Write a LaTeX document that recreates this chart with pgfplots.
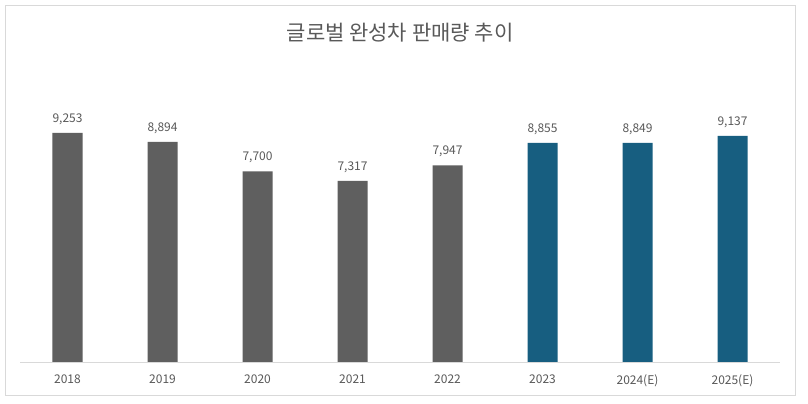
\documentclass[border=0pt]{standalone}
\usepackage{pgfplots}
\pgfplotsset{compat=1.18}
\usepackage{fontspec}
\setmainfont{Noto Sans CJK KR}
\definecolor{bargrey}{HTML}{5F5F5F}
\definecolor{barblue}{HTML}{175E80}
\definecolor{txtgrey}{HTML}{595959}
\definecolor{linegrey}{HTML}{D9D9D9}
\begin{document}
\begin{tikzpicture}
  \useasboundingbox (0,0) rectangle (808bp,404bp);
  \fill[white] (0,0) rectangle (808bp,404bp);
  \draw[linegrey] (5.5bp,8.5bp) rectangle (795.5bp,398.5bp);
  \node[text=txtgrey, font=\fontsize{21bp}{24bp}\selectfont] at (400bp,371bp) {글로벌 완성차 판매량 추이};
  \begin{axis}[
      at={(20bp,42bp)}, anchor=south west,
      scale only axis,
      width=760bp, height=247.5bp,
      xmin=-0.5, xmax=7.5,
      ymin=0, ymax=10000,
      ybar, bar width=30bp, bar shift=0pt,
      axis x line*=bottom,
      hide y axis,
      axis line style={linegrey},
      xtick={0,...,7},
      xticklabels={2018,2019,2020,2021,2022,2023,2024(E),2025(E)},
      major tick length=0pt,
      xticklabel style={text=txtgrey, font=\fontsize{12bp}{14bp}\selectfont, yshift=-9bp},
      /pgf/number format/assume math mode=true,
      nodes near coords,
      nodes near coords style={text=txtgrey, font=\fontsize{12bp}{14bp}\selectfont, yshift=5bp,
        /pgf/number format/.cd, fixed, 1000 sep={,}, precision=0},
    ]
    \addplot[fill=bargrey, draw=none] coordinates {(0,9253) (1,8894) (2,7700) (3,7317) (4,7947)};
    \addplot[fill=barblue, draw=none] coordinates {(5,8855) (6,8849) (7,9137)};
  \end{axis}
\end{tikzpicture}
\end{document}
